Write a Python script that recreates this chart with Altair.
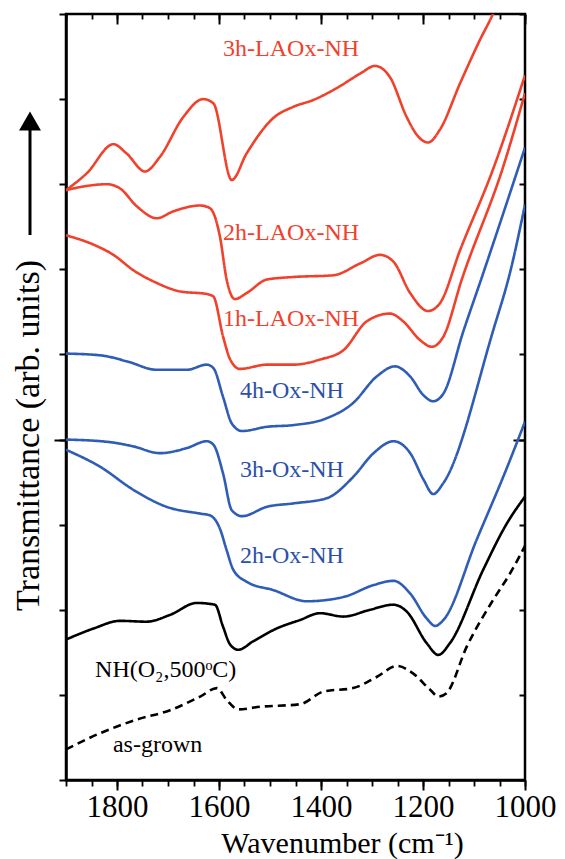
import altair as alt
import pandas as pd

FONT = "Liberation Serif, Times New Roman, serif"

# ---- spectra (wavenumber in cm^-1, transmittance in arbitrary offset units) ----
la3_wn = [1900, 1859, 1807, 1781, 1745, 1716, 1670, 1631, 1611, 1575, 1546, 1493, 1454, 1415,
          1369, 1323, 1294, 1265, 1232, 1212, 1190, 1167, 1127, 1088, 1063, 1040]
la3_v = [6.93, 7.13, 7.47, 7.36, 7.15, 7.32, 7.79, 8.00, 7.95, 7.05, 7.36, 7.78, 7.91, 7.99,
         8.13, 8.30, 8.39, 8.26, 7.79, 7.58, 7.49, 7.64, 8.19, 8.70, 9.00, 9.35]

la2_wn = [1900, 1859, 1820, 1794, 1761, 1722, 1690, 1637, 1618, 1598, 1585, 1569, 1546, 1506,
          1454, 1376, 1323, 1284, 1258, 1225, 1190, 1167, 1127, 1063, 1000]
la2_v = [6.93, 6.98, 7.00, 6.95, 6.74, 6.60, 6.68, 6.75, 6.72, 6.38, 5.88, 5.65, 5.72, 5.88,
         5.91, 5.93, 6.07, 6.17, 6.09, 5.72, 5.51, 5.60, 6.23, 7.17, 8.28]

la1_wn = [1900, 1846, 1807, 1768, 1722, 1676, 1624, 1611, 1592, 1578, 1559, 1506, 1454, 1402,
          1356, 1310, 1265, 1239, 1206, 1183, 1160, 1124, 1042, 1000]
la1_v = [6.40, 6.29, 6.17, 5.99, 5.84, 5.74, 5.71, 5.68, 5.21, 4.94, 4.83, 4.88, 4.88, 4.94,
         5.05, 5.39, 5.48, 5.39, 5.17, 5.09, 5.21, 5.88, 7.22, 8.07]

ox4_wn = [1900, 1833, 1781, 1722, 1663, 1624, 1611, 1592, 1575, 1555, 1506, 1454, 1389, 1337,
          1291, 1255, 1225, 1199, 1180, 1160, 1121, 1085, 1000]
ox4_v = [5.01, 4.99, 4.92, 4.82, 4.82, 4.88, 4.84, 4.50, 4.19, 4.10, 4.15, 4.17, 4.25, 4.43,
         4.74, 4.86, 4.74, 4.52, 4.45, 4.54, 5.27, 5.90, 7.43]

ox3_wn = [1900, 1814, 1768, 1716, 1663, 1624, 1611, 1592, 1575, 1555, 1506, 1454, 1389, 1337,
          1297, 1258, 1225, 1199, 1180, 1160, 1062, 1029, 1000]
ox3_v = [4.00, 3.97, 3.92, 3.84, 3.90, 3.98, 3.94, 3.60, 3.17, 3.10, 3.21, 3.25, 3.31, 3.56,
         3.84, 3.98, 3.84, 3.53, 3.36, 3.49, 5.29, 5.97, 6.76]

ox2_wn = [1900, 1833, 1768, 1703, 1637, 1618, 1598, 1585, 1572, 1546, 1493, 1428, 1356, 1297,
          1258, 1225, 1193, 1176, 1160, 1095, 1036, 1000]
ox2_v = [3.88, 3.68, 3.41, 3.21, 3.13, 3.11, 2.95, 2.70, 2.47, 2.33, 2.23, 2.10, 2.15, 2.29,
         2.34, 2.19, 1.90, 1.81, 1.88, 2.82, 3.66, 4.21]

nh_wn = [1900, 1846, 1794, 1742, 1696, 1644, 1608, 1592, 1578, 1562, 1533, 1487, 1441, 1402,
         1356, 1304, 1258, 1232, 1193, 1170, 1147, 1082, 1036, 1000]
nh_v = [1.65, 1.78, 1.87, 1.86, 1.94, 2.08, 2.06, 1.80, 1.59, 1.53, 1.63, 1.78, 1.88, 1.96,
        1.92, 2.00, 2.06, 1.98, 1.61, 1.47, 1.61, 2.47, 3.01, 3.33]

ag_wn = [1900, 1833, 1761, 1696, 1637, 1604, 1585, 1562, 1520, 1441, 1395, 1337, 1291, 1251,
         1219, 1186, 1170, 1154, 1114, 1062, 1030, 1000]
ag_v = [0.36, 0.55, 0.71, 0.82, 0.98, 1.08, 0.94, 0.83, 0.86, 0.89, 1.04, 1.08, 1.21, 1.34,
        1.25, 1.06, 0.98, 1.02, 1.57, 2.12, 2.42, 2.75]

series_names = ["3h-LAOx-NH", "2h-LAOx-NH", "1h-LAOx-NH", "4h-Ox-NH", "3h-Ox-NH",
                "2h-Ox-NH", "NH(O2,500C)", "as-grown"]
series_wn = [la3_wn, la2_wn, la1_wn, ox4_wn, ox3_wn, ox2_wn, nh_wn, ag_wn]
series_v = [la3_v, la2_v, la1_v, ox4_v, ox3_v, ox2_v, nh_v, ag_v]

RED = "#F0412D"
BLUE = "#2F5DB5"
series_colors = [RED, RED, RED, BLUE, BLUE, BLUE, "#000000", "#000000"]
series_dash = [[1, 0]] * 7 + [[8, 5]]

# ---- curve labels ----
label_text = ["3h-LAOx-NH", "2h-LAOx-NH", "1h-LAOx-NH", "4h-Ox-NH", "3h-Ox-NH",
              "2h-Ox-NH", "NH(O₂,500ᵒC)", "as-grown"]
label_wn = [1592, 1592, 1592, 1559, 1559, 1559, 1843, 1808]
label_v = [8.59, 6.43, 5.42, 4.57, 3.64, 2.63, 1.29, 0.41]
label_colors = [RED, RED, RED, "#2B50A8", "#2B50A8", "#2B50A8", "#000000", "#000000"]

# axis tick values
x_major = [1000, 1200, 1400, 1600, 1800]
x_minor = list(range(1000, 1901, 50))
y_minor = list(range(0, 10))
y_major = [4]

rows = []
for name, wns, vs in zip(series_names, series_wn, series_v):
    for i, (w, v) in enumerate(zip(wns, vs)):
        rows.append({"series": name, "wn": w, "v": v, "i": i})
df = pd.DataFrame(rows)

labels_df = pd.DataFrame({"text": label_text, "wn": label_wn, "v": label_v, "c": label_colors})

xs = alt.Scale(domain=[1000, 1900], reverse=True, nice=False, zero=False)
ys = alt.Scale(domain=[0, 9], nice=False, zero=False)

lines = alt.Chart(df).mark_line(clip=True, strokeWidth=2.6, interpolate="monotone").encode(
    x=alt.X("wn:Q", scale=xs, axis=alt.Axis(
        orient="bottom", values=x_major, format="d", tickSize=10, tickWidth=2, tickColor="black",
        domainColor="black", domainWidth=2.5, grid=False,
        labelFont=FONT, labelFontSize=31, labelColor="black", labelPadding=26,
        labelBaseline="alphabetic", labelFlush=False, labelOverlap=False,
        title="Wavenumber (cm⁻¹)", titleFont=FONT, titleFontSize=30,
        titleFontWeight="normal", titleColor="black", titleX=276, titleY=72,
        titleAlign="center", titleBaseline="alphabetic")),
    y=alt.Y("v:Q", scale=ys, axis=alt.Axis(
        orient="left", values=y_minor, tickSize=7, tickWidth=2, tickColor="black",
        domainColor="black", domainWidth=2.5, grid=False, labels=False,
        title="Transmittance (arb. units)", titleFont=FONT, titleFontSize=34,
        titleFontWeight="normal", titleColor="black", titleX=-38, titleY=421,
        titleAngle=270, titleAlign="center", titleBaseline="middle")),
    color=alt.Color("series:N", scale=alt.Scale(domain=series_names, range=series_colors), legend=None),
    strokeDash=alt.StrokeDash("series:N", scale=alt.Scale(domain=series_names, range=series_dash), legend=None),
    order="i:Q",
)

ticks_b = alt.Chart(df).mark_point(opacity=0, size=1).encode(
    x=alt.X("wn:Q", scale=xs, axis=alt.Axis(orient="bottom", values=x_minor, tickSize=6, tickWidth=1.8,
                                            tickColor="black", labels=False, domain=False,
                                            grid=False, title=None)),
    y=alt.Y("v:Q", scale=ys, axis=alt.Axis(orient="left", values=y_major, tickSize=12, tickWidth=2,
                                           tickColor="black", labels=False, domain=False,
                                           grid=False, title=None)),
)

ticks_c = alt.Chart(df).mark_point(opacity=0, size=1).encode(
    x=alt.X("wn:Q", scale=xs, axis=alt.Axis(orient="top", offset=-10, values=x_major, tickSize=10,
                                            tickWidth=2, tickColor="black", labels=False,
                                            domain=False, grid=False, title=None)),
    y=alt.Y("v:Q", scale=ys, axis=alt.Axis(orient="right", offset=-12, values=y_major, tickSize=12,
                                           tickWidth=2, tickColor="black", labels=False,
                                           domain=False, grid=False, title=None)),
)

ticks_d = alt.Chart(df).mark_point(opacity=0, size=1).encode(
    x=alt.X("wn:Q", scale=xs, axis=alt.Axis(orient="top", offset=-5, values=x_minor, tickSize=5,
                                            tickWidth=1.8, tickColor="black", labels=False,
                                            domain=False, grid=False, title=None)),
    y=alt.Y("v:Q", scale=ys, axis=alt.Axis(orient="right", offset=-6, values=y_minor, tickSize=6,
                                           tickWidth=2, tickColor="black", labels=False,
                                           domain=False, grid=False, title=None)),
)

text = alt.Chart(labels_df).mark_text(align="left", baseline="middle", font=FONT, fontSize=24).encode(
    x=alt.X("wn:Q", scale=xs, axis=None),
    y=alt.Y("v:Q", scale=ys, axis=None),
    text="text:N",
    color=alt.Color("c:N", scale=None),
)

arrow_df = pd.DataFrame({"a": [0]})
shaft = alt.Chart(arrow_df).mark_rule(strokeWidth=3, color="black").encode(
    x=alt.value(-36), y=alt.value(221), y2=alt.value(112))
head = alt.Chart(arrow_df).mark_point(shape="triangle-up", filled=True, size=480,
                                      color="black", opacity=1).encode(
    x=alt.value(-36), y=alt.value(107))

chart = alt.layer(lines, ticks_b, ticks_c, ticks_d, text, shaft, head).resolve_axis(
    x="independent", y="independent"
).properties(
    width=459, height=766,
    autosize=alt.AutoSizeParams(type="none"),
    padding={"left": 66, "top": 14, "right": 40, "bottom": 79},
    background="white",
).configure_view(stroke="black", strokeWidth=2.5)

chart.save("out.html", embed_options={"renderer": "svg", "actions": False})
